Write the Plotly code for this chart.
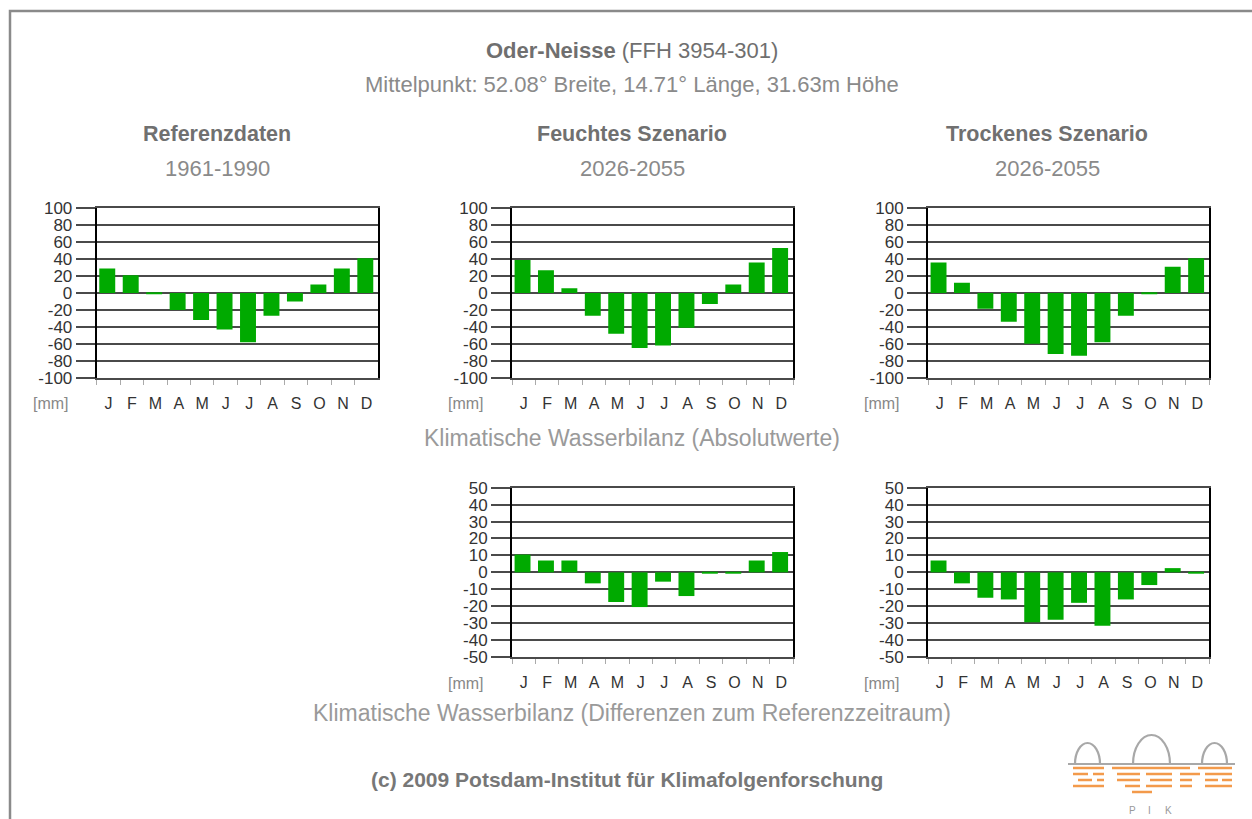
import plotly.graph_objects as go

W, H = 1252, 819
FONT = "Liberation Sans, Arial, sans-serif"

# ---------------- data ----------------
MONTHS = ["Jan", "Feb", "Mär", "Apr", "Mai", "Jun", "Jul", "Aug", "Sep", "Okt", "Nov", "Dez"]
MONTH_LETTERS = ["J", "F", "M", "A", "M", "J", "J", "A", "S", "O", "N", "D"]

REF_ABS = [29, 21, -1, -20, -32, -43, -58, -27, -10, 10, 29, 41]
WET_ABS = [39, 27, 5.5, -27, -48, -65, -62, -41, -13, 10, 36, 53]
DRY_ABS = [36, 12, -18.5, -34, -60, -72, -74, -58, -27, -1, 31, 41]
WET_DIFF = [10.5, 7, 7, -6.5, -17.5, -20.5, -5.5, -14, -0.5, -0.5, 7, 12]
DRY_DIFF = [7, -6.5, -15, -16, -29.5, -28, -18, -31.5, -16, -7.5, 2.5, -0.5]

ABS_TICKS = list(range(-100, 101, 20))
DIFF_TICKS = list(range(-50, 51, 10))


def px(x):
    return x / W


def py(y):
    return 1 - y / H


panels = [
    dict(vals=REF_ABS, x=(96.7, 378.2), y=(208.3, 377.7), ticks=ABS_TICKS),
    dict(vals=WET_ABS, x=(512.0, 793.0), y=(208.3, 377.7), ticks=ABS_TICKS),
    dict(vals=DRY_ABS, x=(928.0, 1209.0), y=(208.3, 377.7), ticks=ABS_TICKS),
    dict(vals=WET_DIFF, x=(512.0, 793.0), y=(487.7, 657.0), ticks=DIFF_TICKS),
    dict(vals=DRY_DIFF, x=(928.0, 1209.0), y=(487.7, 657.0), ticks=DIFF_TICKS),
]

fig = go.Figure()
layout_axes = {}
annotations = []

for i, p in enumerate(panels, start=1):
    sx = "" if i == 1 else str(i)
    fig.add_trace(go.Bar(
        x=MONTHS, y=p["vals"], xaxis="x" + sx, yaxis="y" + sx,
        marker=dict(color="#00aa00", line=dict(width=0)),
        width=0.68, offset=-0.39, showlegend=False, hoverinfo="y",
    ))
    lo, hi = p["ticks"][0], p["ticks"][-1]
    layout_axes["xaxis" + sx] = dict(
        domain=[px(p["x"][0]), px(p["x"][1])], anchor="y" + sx,
        type="category", categoryorder="array", categoryarray=MONTHS,
        range=[-0.5, 11.5], tickmode="array", tickvals=MONTHS, ticktext=MONTH_LETTERS,
        tickson="boundaries", ticks="outside", ticklen=5, tickwidth=1, tickcolor="#aaaaaa",
        showgrid=False, zeroline=False, showline=True, mirror=True,
        linecolor="#4a4a4a", linewidth=2, automargin=False,
        tickfont=dict(family=FONT, size=16, color="#333333"),
        ticklabelstandoff=10, fixedrange=True,
    )
    layout_axes["yaxis" + sx] = dict(
        domain=[py(p["y"][1]), py(p["y"][0])], anchor="x" + sx,
        range=[lo, hi], tickmode="array", tickvals=p["ticks"],
        ticktext=[str(t) for t in p["ticks"]],
        ticks="outside", ticklen=19, tickwidth=2, tickcolor="#4a4a4a",
        showgrid=True, gridcolor="#4a4a4a", gridwidth=2, zeroline=False,
        showline=True, mirror=True, linecolor="#000000", linewidth=2, automargin=False,
        tickfont=dict(family=FONT, size=17, color="#333333"), fixedrange=True,
    )
    annotations.append(dict(
        x=px(p["x"][0] - 46), y=py(p["y"][1] + 26), xref="paper", yref="paper",
        text="[mm]", showarrow=False, xanchor="center", yanchor="middle",
        font=dict(family=FONT, size=16, color="#888888"),
    ))


def txt(x, y, text, size, color, bold=False):
    return dict(x=px(x), y=py(y), xref="paper", yref="paper",
                text=("<b>%s</b>" % text) if bold else text, showarrow=False,
                xanchor="center", yanchor="middle",
                font=dict(family=FONT, size=size, color=color))


annotations += [
    txt(632, 50, "<b>Oder-Neisse</b> (FFH 3954-301)", 22, "#6f6f6f"),
    txt(632, 85, "Mittelpunkt: 52.08° Breite, 14.71° Länge, 31.63m Höhe", 22, "#8a8a8a"),
    txt(217, 134, "Referenzdaten", 21.5, "#707070", bold=True),
    txt(217, 169, "1961-1990", 22, "#8a8a8a"),
    txt(632, 134, "Feuchtes Szenario", 21.5, "#707070", bold=True),
    txt(632, 169, "2026-2055", 22, "#8a8a8a"),
    txt(1047, 134, "Trockenes Szenario", 21.5, "#707070", bold=True),
    txt(1047, 169, "2026-2055", 22, "#8a8a8a"),
    txt(632, 438, "Klimatische Wasserbilanz (Absolutwerte)", 23, "#9a9a9a"),
    txt(632, 713, "Klimatische Wasserbilanz (Differenzen zum Referenzzeitraum)", 23, "#9a9a9a"),
    txt(627, 779, "(c) 2009 Potsdam-Institut für Klimafolgenforschung", 21, "#777777", bold=True),
    txt(1132, 810, "P", 10, "#999999"),
    txt(1149, 810, "I", 10, "#999999"),
    txt(1168, 810, "K", 10, "#999999"),
]

# ---------------- decorations (frame + PIK logo) ----------------
shapes = [dict(type="rect", xref="paper", yref="paper",
               x0=px(10), y0=py(11), x1=px(1270), y1=py(840),
               line=dict(color="#8a8a8a", width=2.5), fillcolor="rgba(0,0,0,0)", layer="above")]


def arc(cx, by, rx, ry):
    k = 0.5523
    pts = [(cx - rx, by), (cx - rx, by - k * ry), (cx - k * rx, by - ry), (cx, by - ry),
           (cx + k * rx, by - ry), (cx + rx, by - k * ry), (cx + rx, by)]
    c = [(px(a), py(b)) for a, b in pts]
    return ("M %f,%f C %f,%f %f,%f %f,%f C %f,%f %f,%f %f,%f" %
            (c[0] + c[1] + c[2] + c[3] + c[4] + c[5] + c[6]))


for cx, rx, ry in [(1087.5, 12.5, 21), (1151.5, 18.5, 29), (1214.5, 12.5, 21)]:
    shapes.append(dict(type="path", xref="paper", yref="paper", path=arc(cx, 764, rx, ry),
                       line=dict(color="#a8a8a8", width=2.2)))
shapes.append(dict(type="line", xref="paper", yref="paper", x0=px(1068), x1=px(1235),
                   y0=py(764), y1=py(764), line=dict(color="#a8a8a8", width=2.2)))

ORANGE_ROWS = [
    (768, [(1073, 1104), (1112, 1190), (1198, 1232)]),
    (774, [(1073, 1088), (1093, 1104), (1117, 1140), (1146, 1172), (1180, 1200), (1205, 1232)]),
    (780, [(1078, 1092), (1097, 1104), (1117, 1140), (1150, 1172), (1180, 1192), (1205, 1218), (1222, 1232)]),
    (786, [(1073, 1104), (1125, 1140), (1146, 1172), (1180, 1192), (1205, 1232)]),
    (792, [(1132, 1152)]),
]
for yy, segs in ORANGE_ROWS:
    for a, b in segs:
        shapes.append(dict(type="line", xref="paper", yref="paper", x0=px(a), x1=px(b),
                           y0=py(yy), y1=py(yy), line=dict(color="#f39a4b", width=2.5)))

fig.update_layout(
    width=W, height=H, autosize=False,
    margin=dict(l=0, r=0, t=0, b=0, pad=0, autoexpand=False),
    paper_bgcolor="white", plot_bgcolor="white",
    font=dict(family=FONT),
    annotations=annotations, shapes=shapes, bargap=0.3, showlegend=False,
    **layout_axes,
)

POST = ("document.documentElement.style.margin='0';document.documentElement.style.overflow='hidden';"
        "document.body.style.margin='0';document.body.style.overflow='hidden';"
        "var d=document.getElementById('{plot_id}');d.style.position='fixed';"
        "d.style.left='0px';d.style.top='0px';")

fig.write_html("out.html", config={"displayModeBar": False}, post_script=POST)
